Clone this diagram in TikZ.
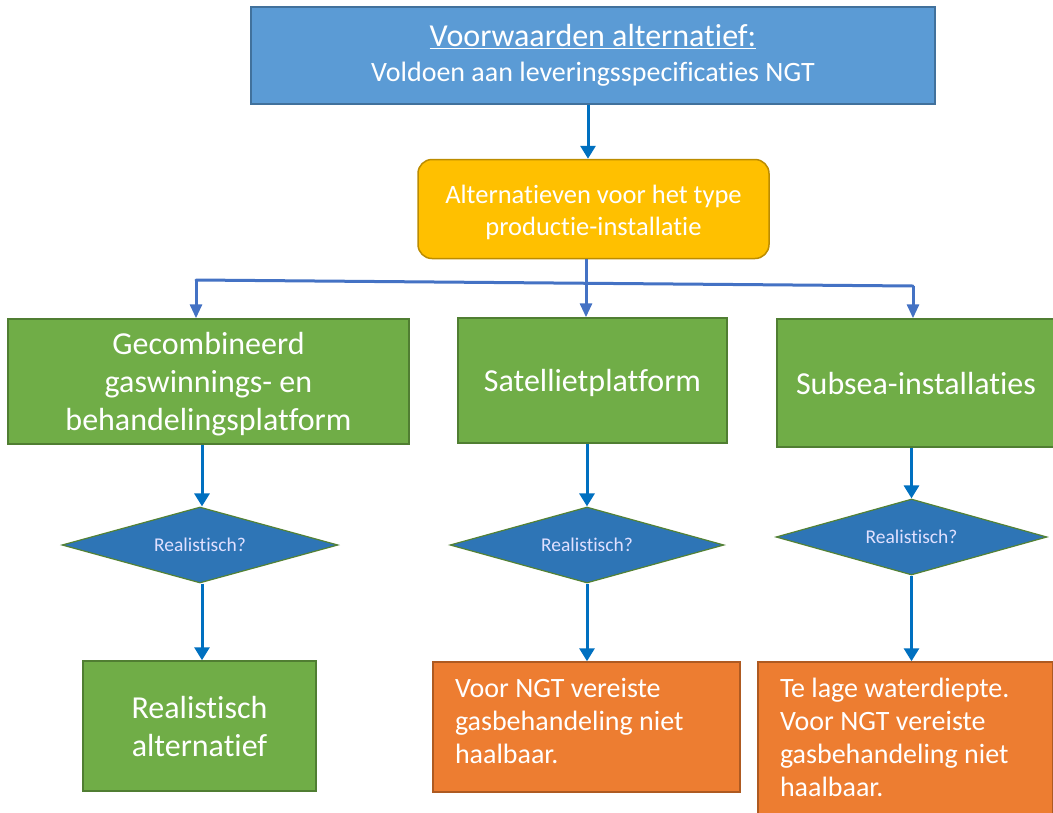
\documentclass[tikz,border=0pt]{standalone}
\usepackage{fontspec}
\setmainfont{Carlito}[Ligatures={NoCommon}]
\usetikzlibrary{shapes.geometric,arrows.meta}
\definecolor{topblue}{HTML}{5B9BD5}
\definecolor{topblueb}{HTML}{41719C}
\definecolor{yel}{HTML}{FFC000}
\definecolor{yelb}{HTML}{BC8C00}
\definecolor{grn}{HTML}{70AD47}
\definecolor{grnb}{HTML}{507E32}
\definecolor{org}{HTML}{ED7D31}
\definecolor{orgb}{HTML}{AE5A21}
\definecolor{dia}{HTML}{2E75B6}
\definecolor{diab}{HTML}{548235}
\definecolor{arrA}{HTML}{0070C0}
\definecolor{arrB}{HTML}{4472C4}
\newcommand{\orgtext}[3]{\begin{minipage}[c][#1][t]{#2}\vspace*{16pt}#3\end{minipage}}
\newcommand{\zerotext}[1]{\raisebox{-0.35em}[0pt][0pt]{\makebox[0pt]{#1}}}
\newcommand{\dn}[2]{\raisebox{-#1}[\height][\depth]{#2}}
\tikzset{
  box/.style={draw, line width=1.5pt, text=white, inner sep=0pt, align=center},
  topbox/.style={box, fill=topblue, draw=topblueb},
  yelbox/.style={box, fill=yel, draw=yelb, rounded corners=14pt},
  grnbox/.style={box, fill=grn, draw=grnb, font=\fontsize{32}{38}\selectfont},
  orgbox/.style={box, fill=org, draw=orgb, font=\fontsize{28}{33}\selectfont},
  decision/.style={diamond, draw=diab, line width=1.2pt, fill=dia, text=white!88!blue, inner sep=0pt, font=\fontsize{19.5}{22}\selectfont},
  arrA/.style={draw=arrA, line width=3pt, -{Triangle[width=15pt,length=13pt]}},
  arrB/.style={draw=arrB, line width=3pt, -{Triangle[width=12pt,length=14pt]}},
  lineB/.style={draw=arrB, line width=3pt, line cap=round, line join=round},
}
\begin{document}
\begin{tikzpicture}[x=1pt,y=-1pt]
\useasboundingbox (0,0) rectangle (1053,812);
\fill[white] (0,0) rectangle (1053,812);
% top box
\node[topbox, minimum width=684pt, minimum height=97pt, font=\fontsize{28}{35}\selectfont] (top) at (593,55.5)
  {{\fontsize{32}{35}\selectfont\underline{Voorwaarden alternatief:}}\\
   Voldoen aan leveringsspecificaties NGT};
% yellow box
\node[yelbox, minimum width=351pt, minimum height=99pt, font=\fontsize{26.5}{32}\selectfont] (alt) at (593.5,209)
  {\dn{3pt}{Alternatieven voor het type}\\\dn{3pt}{productie-installatie}};
% green boxes
\node[grnbox, minimum width=401pt, minimum height=125pt] (g1) at (208.5,381.5)
  {\dn{3pt}{Gecombineerd}\\\dn{3pt}{gaswinnings- en}\\\dn{3pt}{behandelingsplatform}};
\node[grnbox, minimum width=269pt, minimum height=125pt] (g2) at (592.5,380.5)
  {\dn{2pt}{Satellietplatform}};
\node[grnbox, minimum width=278pt, minimum height=128pt] (g3) at (916,383)
  {\dn{1pt}{Subsea-installaties}};
% diamonds
\node[decision, minimum width=276pt, minimum height=76pt] (d1) at (200,545) {\zerotext{Realistisch?}};
\node[decision, minimum width=274pt, minimum height=76pt] (d2) at (587,545) {\zerotext{Realistisch?}};
\node[decision, minimum width=271pt, minimum height=76pt] (d3) at (911.5,537) {\zerotext{Realistisch?}};
% bottom boxes
\node[grnbox, minimum width=233pt, minimum height=130pt] (r1) at (199.5,726)
  {Realistisch\\alternatief};
\node[orgbox, minimum width=307pt, minimum height=130pt] (r2) at (586.5,727)
  {\orgtext{130pt}{263pt}{Voor NGT vereiste\\gasbehandeling niet\\haalbaar.}};
\node[orgbox, minimum width=295pt, minimum height=152pt] (r3) at (905.5,738)
  {\orgtext{152pt}{251pt}{Te lage waterdiepte.\\Voor NGT vereiste\\gasbehandeling niet\\haalbaar.}};
% connectors
\draw[arrA] ([xshift=-5pt]top.south) -- ([xshift=-5pt]top.south |- alt.north);
\coordinate (jL) at (196,280);
\coordinate (jR) at (913,286);
\coordinate (jM) at (586,283);
\draw[lineB] (jL) -- (jR);
\draw[arrB] (alt.south -| jM) -- (g2.north -| jM);
\draw[arrB] (jL) -- (g1.north -| jL);
\draw[arrB] (jR) -- (g3.north -| jR);
\draw[arrA] ([xshift=2pt]g1.south -| d1.north) -- ([xshift=2pt]d1.north);
\draw[arrA] (g2.south -| d2.north) -- (d2.north);
\draw[arrA] (g3.south -| d3.north) -- (d3.north);
\draw[arrA] ([xshift=2pt]d1.south) -- ([xshift=2pt]d1.south |- r1.north);
\draw[arrA] (d2.south) -- (d2.south |- r2.north);
\draw[arrA] (d3.south) -- (d3.south |- r3.north);
\end{tikzpicture}
\end{document}
